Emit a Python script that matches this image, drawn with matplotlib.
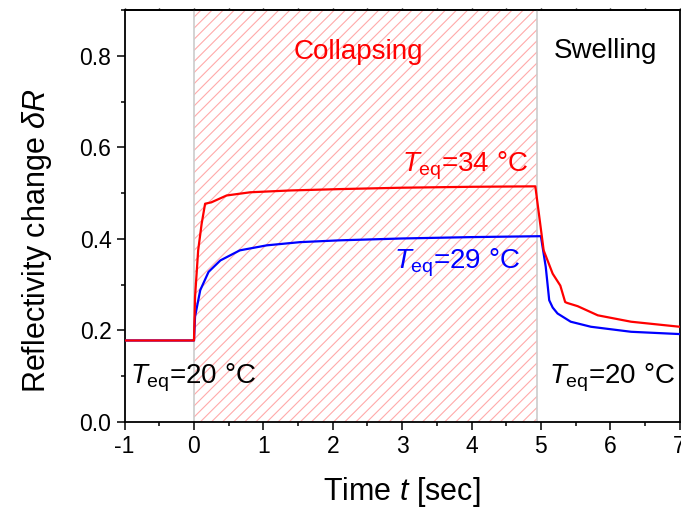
import matplotlib.pyplot as plt
import numpy as np
from matplotlib.ticker import MultipleLocator, FormatStrFormatter

plt.rcParams['font.family'] = ['Liberation Sans', 'DejaVu Sans']
plt.rcParams['mathtext.fontset'] = 'custom'
plt.rcParams['mathtext.rm'] = 'Liberation Sans'
plt.rcParams['mathtext.it'] = 'Liberation Sans:italic'
plt.rcParams['axes.unicode_minus'] = False
plt.rcParams['hatch.linewidth'] = 0.8

# dados
t_34 = [-1, -0.05, 0.0, 0.015, 0.06, 0.11, 0.16, 0.25, 0.47, 0.81, 1.39, 2.11,
        3.0, 4.0, 4.92, 5.04, 5.17, 5.28, 5.35, 5.38, 5.53, 5.82, 6.30, 7.0]
dR_34 = [0.178, 0.178, 0.178, 0.273, 0.375, 0.433, 0.477, 0.480, 0.495, 0.502, 0.506, 0.509,
         0.512, 0.514, 0.515, 0.375, 0.324, 0.298, 0.262, 0.260, 0.253, 0.233, 0.219, 0.208]

t_29 = [-1, 0.0, 0.015, 0.09, 0.21, 0.38, 0.66, 1.05, 1.53, 2.11, 3.0, 4.0,
        5.0, 5.07, 5.12, 5.17, 5.24, 5.43, 5.72, 6.30, 7.0]
dR_29 = [0.178, 0.178, 0.230, 0.288, 0.328, 0.353, 0.375, 0.386, 0.393, 0.397, 0.401, 0.404,
         0.406, 0.339, 0.266, 0.250, 0.237, 0.219, 0.208, 0.197, 0.192]

collapse_start, collapse_end = 0.0, 4.94

fig = plt.figure(figsize=(6.81, 5.12), dpi=100)
ax = fig.add_axes([0.183, 0.176, 0.815, 0.804])

# regiao hachurada (colapso)
ax.axvspan(collapse_start, collapse_end, facecolor='none', edgecolor='#ffaaaa',
           hatch='///', linewidth=0, zorder=0)
ax.axvline(collapse_start, color='#cccccc', lw=1.2, zorder=1)
ax.axvline(collapse_end, color='#cccccc', lw=1.2, zorder=1)

ax.plot(t_29, dR_29, color='#0000ff', lw=1.6, zorder=3)
ax.plot(t_34, dR_34, color='#ff0000', lw=1.6, zorder=3)

ax.set_xlim(-1, 7)
ax.set_ylim(0, 0.9)
ax.xaxis.set_major_locator(MultipleLocator(1))
ax.xaxis.set_minor_locator(MultipleLocator(0.5))
ax.yaxis.set_major_locator(MultipleLocator(0.2))
ax.yaxis.set_minor_locator(MultipleLocator(0.1))
ax.yaxis.set_major_formatter(FormatStrFormatter('%.1f'))

ax.tick_params(which='major', direction='out', length=6, width=1.1, labelsize=16.5)
ax.tick_params(which='minor', direction='out', length=3, width=1.1)
for s in ax.spines.values():
    s.set_linewidth(1.3)

# eixo superior com marcas bem curtas
sec = ax.secondary_xaxis('top')
sec.xaxis.set_major_locator(MultipleLocator(1))
sec.xaxis.set_minor_locator(MultipleLocator(0.5))
sec.tick_params(which='both', direction='out', length=1.5, width=1.0, labeltop=False)
sec.spines['top'].set_linewidth(1.3)

ax.set_xlabel(r'Time $t$ [sec]', fontsize=22, labelpad=12)
ax.set_ylabel(r'Reflectivity change $\delta R$', fontsize=22)
ax.yaxis.set_label_coords(-0.128, 0.44)

fs = 20
ax.text(2.37, 0.793, 'Collapsing', color='#ff0000', fontsize=fs, ha='center', va='baseline')
ax.text(5.19, 0.796, 'Swelling', color='black', fontsize=fs, ha='left', va='baseline')
ax.text(3.0, 0.548, r'$T_{\rm eq}$=34 °C', color='#ff0000', fontsize=fs, ha='left', va='baseline')
ax.text(2.88, 0.336, r'$T_{\rm eq}$=29 °C', color='#0000ff', fontsize=fs, ha='left', va='baseline')
ax.text(-0.92, 0.085, r'$T_{\rm eq}$=20 °C', color='black', fontsize=fs, ha='left', va='baseline')
ax.text(5.12, 0.085, r'$T_{\rm eq}$=20 °C', color='black', fontsize=fs, ha='left', va='baseline')

fig.savefig('out.png', dpi=100)
